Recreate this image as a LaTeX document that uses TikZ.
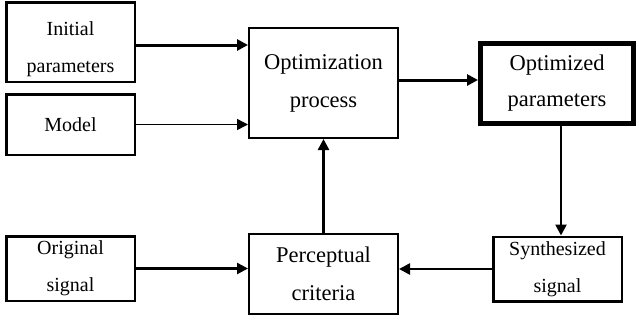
\documentclass[tikz,border=0pt]{standalone}
\usepackage{fontspec}
\setmainfont{Liberation Serif}
\usepackage{tikz}
\usetikzlibrary{arrows.meta,positioning,calc}

\begin{document}
\begin{tikzpicture}[
  x=1pt,y=-1pt,
  blk/.style={rectangle,draw=black,fill=white,line width=2.5pt,
    minimum width=128.5pt,minimum height=#1,align=center,inner sep=2pt,
    font=\fontsize{20}{37}\selectfont},
  blk/.default={64.5pt},
  bigblk/.style={blk=#1,line width=2pt,minimum width=149pt,
    font=\fontsize{22.5}{38}\selectfont},
  flow/.style={-{Triangle[length=11pt,width=11pt]},line width=3pt},
  thinflow/.style={flow,line width=1.5pt},
  node distance=10pt and 112pt,
]
  \useasboundingbox (0,0) rectangle (639,322);
  % left column: inputs
  \node[blk=79.5pt,text height=66pt] (init) at (70.5,42) {Initial\\parameters};
  \node[blk=60.5pt,below=10pt of init] (model) {Model};
  \node[blk,below=79pt of model] (orig) {Original\\signal};
  % middle column
  \node[bigblk=110pt,right=112pt of init,yshift=-41pt] (opt) {Optimization\\process};
  \node[bigblk=80pt,below=94pt of opt] (perc) {Perceptual\\criteria};
  % right column
  \node[blk=80pt,line width=5pt,minimum width=153pt,right=79pt of opt,
    font=\fontsize{22.5}{36}\selectfont] (optd) {Optimized\\parameters};
  \node[blk,below=110pt of optd,xshift=0.5pt] (synth) {Synthesized\\signal};
  % connectors
  \draw[flow] ([yshift=-3pt]init.east) -- ([yshift=-3pt]init.east -| opt.west);
  \draw[thinflow] (model.east) -- (model.east -| opt.west);
  \draw[flow] ([yshift=3pt]opt.east) -- ([yshift=3pt]opt.east -| optd.west);
  \draw[flow,line width=2.5pt] ([xshift=4pt]optd.south) -- ([xshift=4pt]optd.south |- synth.north);
  \draw[flow,line width=2.5pt] (synth.west) -- (synth.west -| perc.east);
  \draw[flow,line width=2.5pt] (orig.east) -- (orig.east -| perc.west);
  \draw[flow,line width=2.5pt] (perc.north) -- (opt.south);
\end{tikzpicture}
\end{document}
